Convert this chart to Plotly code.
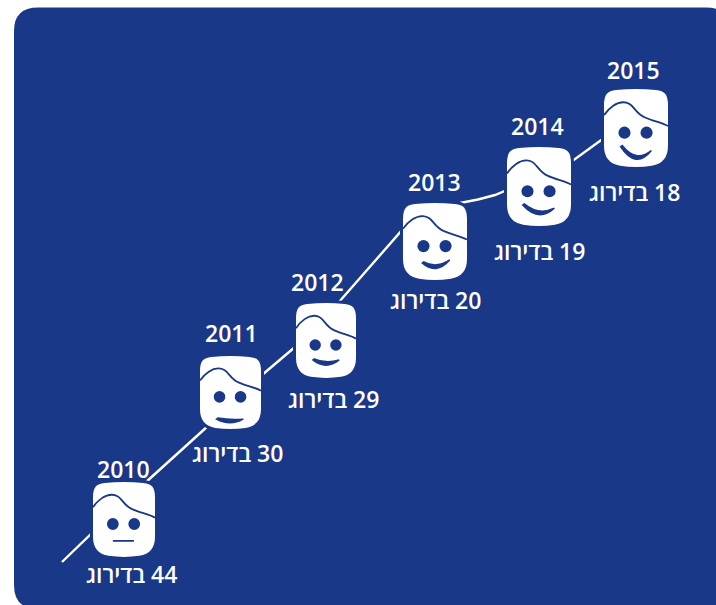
import plotly.graph_objects as go

# ---- data ----
years = [2010, 2011, 2012, 2013, 2014, 2015]
ranks = [44, 30, 29, 20, 19, 18]
rank_word = "בדירוג"

# face centres on the hidden picture-unit axes
face_x = [124, 230.5, 326, 435, 539, 636]
face_y = [519.5, 392.5, 340.5, 241.5, 186.5, 128]

# the trend line running behind the faces
line_x = [62, 124, 230, 262, 295, 339, 403, 436, 460, 478, 495, 507, 571, 604]
line_y = [562, 502, 406, 375, 347, 302, 229, 204, 203, 199.5, 195, 190, 162, 138]

# ---- styling ----
NAVY = "#1a3888"
WHITE = "#ffffff"
FONT = "Open Sans, Noto Sans, DejaVu Sans, sans-serif"
YEAR_OFFSET = [-50.5, -59.5, -58.5, -59.5, -60.5, -58]
YEAR_DX = [-1, 0.5, -9, -1, -2, -3]
LABEL_OFFSET = [54.5, 60.5, 58.5, 58.5, 64.5, 64]
LABEL_DX = [7, 6.5, 7, 0, 0, -2]
FACE_W = [62, 61, 60, 64, 64, 64]
FACE_H = [75, 73, 75, 77, 79, 78]
# smile: left x, left y, right x, right y, lowest y (fractions of the face)
SMILE = [
    (0.32, 0.785, 0.66, 0.785, 0.785),
    (0.27, 0.865, 0.71, 0.865, 0.915),
    (0.28, 0.76, 0.72, 0.76, 0.83),
    (0.30, 0.78, 0.73, 0.74, 0.85),
    (0.245, 0.735, 0.74, 0.775, 0.855),
    (0.26, 0.74, 0.74, 0.79, 0.90),
]


def px(fx, fy, w, h):
    """Fraction of the face box -> pixels from the face anchor (y grows upward)."""
    return f"{(fx - 0.5) * w:.2f},{(0.5 - fy) * h:.2f}"


def head_path(w, h):
    p = lambda a, b: px(a, b, w, h)
    return (
        f"M{p(0, .22)} C{p(0, .07)} {p(.06, .025)} {p(.2, .012)} "
        f"C{p(.4, -.005)} {p(.6, -.005)} {p(.8, .012)} "
        f"C{p(.94, .025)} {p(1, .07)} {p(1, .22)} "
        f"L{p(1, .72)} C{p(1, .87)} {p(.92, .96)} {p(.74, .985)} "
        f"C{p(.58, 1.005)} {p(.42, 1.005)} {p(.26, .985)} "
        f"C{p(.08, .96)} {p(0, .87)} {p(0, .72)} Z"
    )


def hair_path(w, h):
    p = lambda a, b: px(a, b, w, h)
    return (
        f"M{p(0, .335)} C{p(.08, .24)} {p(.2, .165)} {p(.31, .17)} "
        f"C{p(.47, .175)} {p(.47, .31)} {p(.64, .365)} "
        f"C{p(.76, .41)} {p(.9, .43)} {p(1, .475)}"
    )


def smile_path(s, w, h):
    x0, y0, x1, y1, low = s
    p = lambda a, b: px(a, b, w, h)
    cx = (x0 + x1) / 2
    if low == y0 == y1:
        return f"M{p(x0, y0)} L{p(x1, y1)}"
    c_low = 2 * low - (y0 + y1) / 2
    c_up = c_low - 0.085
    return (
        f"M{p(x0, y0)} Q{p(cx, c_low)} {p(x1, y1)} "
        f"Q{p(cx, c_up)} {p(x0 + .025, y0 - .015)} Z"
    )


fig = go.Figure()
fig.add_trace(go.Scatter(
    x=line_x, y=line_y, mode="lines",
    line=dict(color=WHITE, width=2.4),
    hoverinfo="skip", showlegend=False,
))

shapes = [dict(
    type="path", layer="below", xref="x", yref="y",
    path="M14,31 Q14,7.5 38,7.5 L706,7.5 Q730,7.5 730,31 L730,585 Q730,609 706,609 "
         "L38,609 Q14,609 14,585 Z",
    fillcolor=NAVY, line=dict(width=0),
)]
annotations = []

for i, yr in enumerate(years):
    anchor = dict(
        xref="x", yref="y", xsizemode="pixel", ysizemode="pixel",
        xanchor=face_x[i], yanchor=face_y[i],
    )
    w, h = FACE_W[i], FACE_H[i]
    shapes.append(dict(type="path", path=head_path(w + 3, h + 3), fillcolor=WHITE,
                       line=dict(color=NAVY, width=3), **anchor))
    shapes.append(dict(type="path", path=hair_path(w, h),
                       line=dict(color=NAVY, width=1.8), **anchor))
    for ex in (0.32, 0.665):
        r = 0.095 * w
        cx, cy = (ex - 0.5) * w, (0.5 - 0.56) * h
        shapes.append(dict(type="circle", x0=cx - r, x1=cx + r, y0=cy - r, y1=cy + r,
                           fillcolor=NAVY, line=dict(width=0), **anchor))
    flat = SMILE[i][4] == SMILE[i][1]
    shapes.append(dict(type="path", path=smile_path(SMILE[i], w, h),
                       fillcolor=None if flat else NAVY,
                       line=dict(color=NAVY, width=1.8 if flat else 1.5), **anchor))
    annotations.append(dict(
        x=face_x[i], y=face_y[i], xref="x", yref="y", text=str(yr), showarrow=False,
        xshift=YEAR_DX[i], yshift=-YEAR_OFFSET[i],
        font=dict(family=FONT, size=23, color=WHITE, weight=600),
    ))
    annotations.append(dict(
        x=face_x[i], y=face_y[i], xref="x", yref="y",
        text=f"\u202b{ranks[i]} {rank_word}\u202c", showarrow=False,
        xshift=LABEL_DX[i], yshift=-LABEL_OFFSET[i],
        font=dict(family=FONT, size=23, color=WHITE, weight=600),
    ))

fig.update_layout(
    width=716, height=605, margin=dict(l=0, r=0, t=0, b=0),
    paper_bgcolor=WHITE, plot_bgcolor="rgba(0,0,0,0)",
    xaxis=dict(visible=False, range=[0, 716], fixedrange=True),
    yaxis=dict(visible=False, range=[605, 0], fixedrange=True),
    shapes=shapes, annotations=annotations,
)
fig.write_html(
    "out.html",
    config=dict(displayModeBar=False),
    post_script="document.body.style.margin='0';document.body.style.overflow='hidden';",
)
